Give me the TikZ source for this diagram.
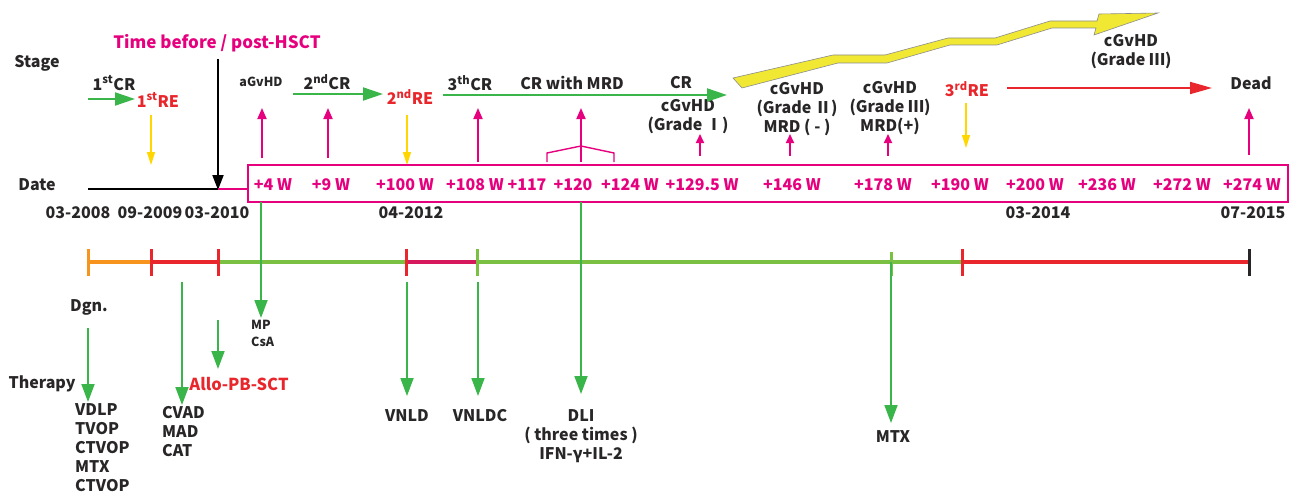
\documentclass[tikz,border=0pt]{standalone}
\usepackage{fontspec}
\setmainfont{Noto Sans CJK SC}
\usetikzlibrary{arrows.meta,positioning,calc}
\definecolor{wkpink}{RGB}{230,0,126}
\definecolor{relred}{RGB}{232,38,43}
\definecolor{txgreen}{RGB}{57,181,74}
\definecolor{lngreen}{RGB}{122,193,67}
\definecolor{dxorange}{RGB}{247,148,29}
\definecolor{reyellow}{RGB}{255,214,0}
\definecolor{bandyellow}{RGB}{240,232,50}
\definecolor{segcrimson}{RGB}{214,25,92}
\definecolor{ink}{RGB}{40,38,38}

\begin{document}
\begin{tikzpicture}[x=1pt, y=-1pt,
    lbl/.style={font=\fontsize{16}{19}\selectfont\bfseries, text=ink, inner sep=0pt, align=center},
    lst/.style={lbl, align=left, anchor=north west},
    small/.style={font=\fontsize{12.5}{17}\selectfont\bfseries, text=ink, inner sep=0pt, align=left},
    wk/.style={font=\fontsize{16}{19}\selectfont\bfseries, text=wkpink, inner sep=0pt},
    rel/.style={lbl, text=relred},
    up/.style={-{Triangle[length=11pt,width=9pt]}, wkpink, line width=1.8pt},
    upshort/.style={-{Triangle[length=9pt,width=8pt]}, wkpink, line width=1.8pt},
    ydown/.style={-{Triangle[length=13pt,width=8pt]}, reyellow, line width=1.3pt},
    gright/.style={-{Triangle[length=20pt,width=13pt]}, txgreen, line width=2pt},
    gdown/.style={-{Triangle[length=18pt,width=13pt]}, txgreen, line width=1.8pt},
    seg/.style={line width=4pt},
    tick/.style={line width=3pt},
]
\useasboundingbox (0,0) rectangle (1294,495);

% ---- stage row
\node[lbl] (stage) at (37,63) {Stage};
\node[lbl, text=wkpink, font=\fontsize{17}{19}\selectfont\bfseries] (hsct) at (217,43) {Time before / post-HSCT};
\node[lbl] (cr1) at (114,83) {1\textsuperscript{st}CR};
\node[rel] (re1) at (158,100) {1\textsuperscript{st}RE};
\node[small] (agvhd) at (261,82) {aGvHD};
\node[lbl] (cr2) at (327,82) {2\textsuperscript{nd}CR};
\node[rel] (re2) at (410,97) {2\textsuperscript{nd}RE};
\node[lbl] (cr3) at (470,83) {3\textsuperscript{th}CR};
\node[lbl] (crmrd) at (572,83) {CR with MRD};
\node[lbl] (cr4) at (681,83) {CR};
\node[lbl] (gvhd1) at (688,117) {cGvHD\\(Grade Ⅰ)};
\node[lbl] (gvhd2) at (797,109) {cGvHD\\(Grade Ⅱ)\\MRD ( - )};
\node[lbl] (gvhd3) at (890,108) {cGvHD\\(Grade Ⅲ)\\MRD(+)};
\node[rel] (re3) at (967,89) {3\textsuperscript{rd}RE};
\node[lbl] (dead) at (1251,83) {Dead};
\node[lbl] (gvhdtop) at (1131,52) {cGvHD\\(Grade Ⅲ)};

% yellow band
\filldraw[fill=bandyellow, draw=black!45, line width=0.6pt]
  (733,78) -- (833,55) -- (885,55) -- (948,38) -- (995,38) -- (1050,21)
  -- (1097,21) -- (1099,14) -- (1158,13) -- (1094,35) -- (1096,28)
  -- (1052,28) -- (997,45) -- (950,45) -- (887,63) -- (838,63) -- (742,88) -- cycle;

% stage arrows
\draw[gright] (88,99) -- (135,99);
\draw[gright] (293,94) -- (383,94);
\draw[gright] (443,95) -- (727,95);
\draw[-{Triangle[length=22pt,width=12pt]}, relred, line width=2pt] (1007,88) -- (1212,88);
\draw[ydown] (151,115) -- (151,165);
\draw[ydown] (407,115) -- (407,165);
\draw[ydown] (966,103) -- (966,148);
\draw[-{Triangle[length=15pt,width=11pt]}, black, line width=2pt] (218,59) -- (218,190);
\foreach \xa/\ya in {262/158, 328/158, 478/162, 581/162, 1249/155}
  \draw[up] (\xa,\ya) -- (\xa,108);
\foreach \xa in {700, 790, 888}
  \draw[upshort] (\xa,156) -- (\xa,134);
\draw[wkpink, line width=1.4pt] (547,162) -- (547,153) -- (581,146) -- (614,153) -- (614,162);

% ---- date row
\node[lbl] (date) at (37,185) {Date};
\draw[black, line width=2pt] (88,189) -- (218,189);
\draw[wkpink, line width=2pt] (218,189) -- (248,189);
\draw[wkpink, line width=1.8pt] (248,165) rectangle (1288,202);
\foreach \xw/\tw in {273/+4 W, 331/+9 W, 405/+100 W, 475/+108 W, 527/+117, 573/+120,
    630/+124 W, 702/+129.5 W, 792/+146 W, 883/+178 W, 960/+190 W, 1035/+200 W,
    1107/+236 W, 1182/+272 W, 1252/+274 W}
  \node[wk] at (\xw,185) {\tw};
\foreach \xd/\td in {78/03-2008, 150/09-2009, 217/03-2010, 411/04-2012, 1038/03-2014, 1253/07-2015}
  \node[lbl] at (\xd,213) {\td};

% ---- therapy timeline
\draw[seg, dxorange] (88,262) -- (151,262);
\draw[seg, relred] (151,262) -- (218,262);
\draw[seg, lngreen] (218,262) -- (406,262);
\draw[seg, segcrimson] (406,262) -- (477,262);
\draw[seg, lngreen] (477,262) -- (962,262);
\draw[seg, relred] (962,262) -- (1249,262);
\draw[tick, dxorange] (88,249) -- (88,276);
\draw[tick, relred] (151,249) -- (151,276);
\draw[tick, relred] (218,249) -- (218,276);
\draw[tick, relred] (406,249) -- (406,276);
\draw[tick, lngreen] (477,249) -- (477,276);
\draw[tick, lngreen] (891,252) -- (891,276);
\draw[tick, relred] (962,249) -- (962,276);
\draw[tick, ink] (1249,249) -- (1249,276);

% therapy arrows
\draw[gdown] (88,328) -- (88,402);
\draw[gdown] (182,282) -- (182,405);
\draw[gdown] (218,320) -- (218,369);
\draw[gdown] (261,202) -- (261,318);
\draw[gdown] (407,282) -- (407,396);
\draw[gdown] (478,282) -- (478,396);
\draw[gdown] (581,202) -- (581,394);
\draw[gdown] (891,262) -- (891,423);

\node[lbl] (dgn) at (89,307) {Dgn.};
\node[lbl] (therapy) at (42,384) {Therapy};
\node[lst] (rx1) at (75,403) {VDLP\\TVOP\\CTVOP\\MTX\\CTVOP};
\node[lst] (rx2) at (162,406) {CVAD\\MAD\\CAT};
\node[rel, font=\fontsize{16.5}{19}\selectfont\bfseries] (allo) at (239,384) {Allo-PB-SCT};
\node[small, anchor=north west] (mp) at (251,320) {MP\\CsA};
\node[lbl] (vnld) at (407,416) {VNLD};
\node[lbl] (vnldc) at (480,416) {VNLDC};
\node[lbl] (dli) at (581,436) {DLI\\( three times )\\IFN-γ+IL-2};
\node[lbl] (mtx) at (893,437) {MTX};
\end{tikzpicture}
\end{document}
